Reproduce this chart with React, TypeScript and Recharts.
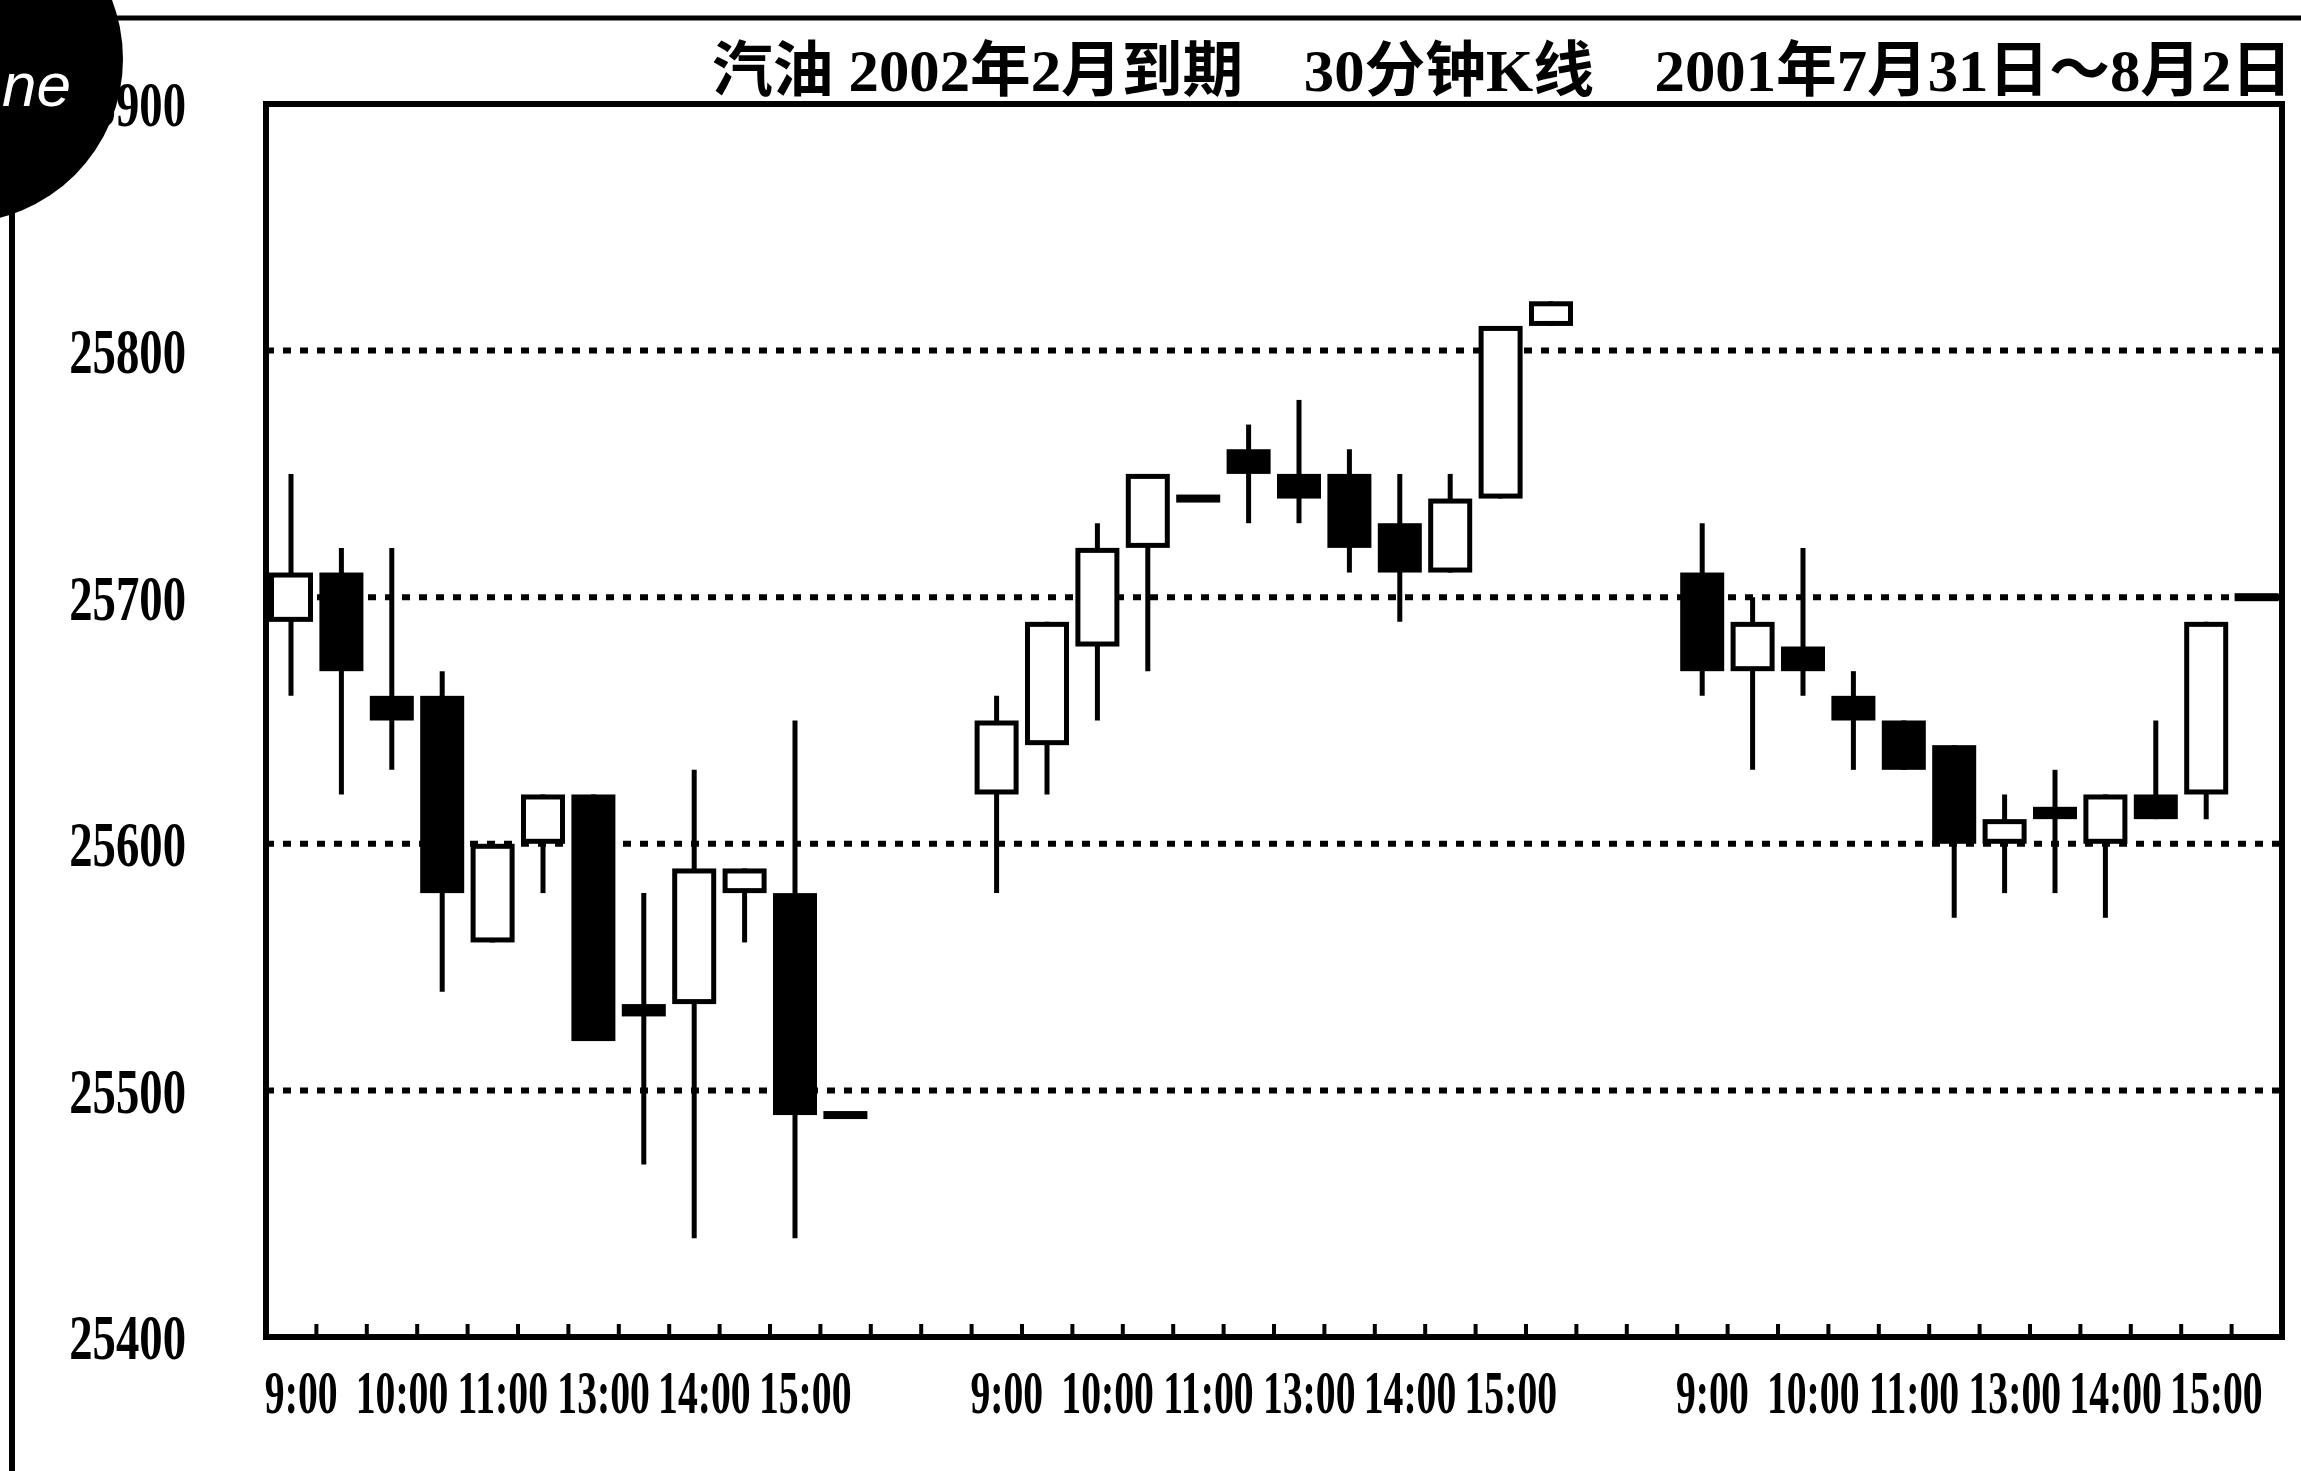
import React from 'react';
import { ComposedChart, Bar, XAxis, YAxis, CartesianGrid, ReferenceArea } from 'recharts';

const W = 2301;
const H = 1471;

// ---- data (3 trading days, 12 half-hour bars each) ----
const openPrices = [
  25690, 25710, 25660, 25660, 25560, 25600, 25620, 25535, 25535, 25580, 25580, 25490,
  25620, 25640, 25680, 25720, 25740, 25760, 25750, 25750, 25730, 25710, 25740, 25810,
  25710, 25670, 25680, 25660, 25650, 25640, 25600, 25615, 25600, 25620, 25620, 25700,
];
const highPrices = [
  25750, 25720, 25720, 25670, 25600, 25620, 25620, 25580, 25630, 25590, 25650, 25490,
  25660, 25690, 25730, 25750, 25740, 25770, 25780, 25760, 25750, 25750, 25810, 25820,
  25730, 25700, 25720, 25670, 25650, 25640, 25620, 25630, 25620, 25650, 25690, 25700,
];
const lowPrices = [
  25660, 25620, 25630, 25540, 25560, 25580, 25520, 25470, 25440, 25560, 25440, 25490,
  25580, 25620, 25650, 25670, 25740, 25730, 25730, 25710, 25690, 25710, 25740, 25810,
  25660, 25630, 25660, 25630, 25630, 25570, 25580, 25580, 25570, 25610, 25610, 25700,
];
const closePrices = [
  25710, 25670, 25650, 25580, 25600, 25620, 25520, 25530, 25590, 25590, 25490, 25490,
  25650, 25690, 25720, 25750, 25740, 25750, 25740, 25720, 25710, 25740, 25810, 25820,
  25670, 25690, 25670, 25650, 25630, 25600, 25610, 25610, 25620, 25610, 25690, 25700,
];

const dayCount = 3;
const barsPerDay = 12;
const gapSlots = 2;
const timeLabels = ['9:00', '10:00', '11:00', '13:00', '14:00', '15:00'];
const timeLabelBars = [0, 2, 4, 6, 8, 10];
const priceTicks = [25400, 25500, 25600, 25700, 25800, 25900];
const titleText = '汽油 2002年2月到期　30分钟K线　2001年7月31日～8月2日';

// ---- derived table ----
const slotsPerDay = barsPerDay + gapSlots;
const totalSlots = dayCount * barsPerDay + (dayCount - 1) * gapSlots;

const data = Array.from({ length: totalSlots }, (_, slot) => {
  const day = Math.floor(slot / slotsPerDay);
  const pos = slot % slotsPerDay;
  if (pos >= barsPerDay) return { slot, range: null };
  const i = day * barsPerDay + pos;
  return {
    slot,
    open: openPrices[i],
    high: highPrices[i],
    low: lowPrices[i],
    close: closePrices[i],
    range: [lowPrices[i], highPrices[i]],
  };
});

const labelMap = new Map<string, string>();
const axisTicks: number[] = [];
for (let s = 1; s < totalSlots; s++) axisTicks.push(s);
for (let d = 0; d < dayCount; d++) {
  timeLabelBars.forEach((b, k) => {
    const v = d * slotsPerDay + b + 0.5;
    axisTicks.push(v);
    labelMap.set(String(v), timeLabels[k]);
  });
}
axisTicks.sort((a, b) => a - b);

// ---- marks ----
const renderCandle = (props: any) => {
  const { x, y, width, height, payload } = props;
  if (!payload || payload.open == null || !isFinite(y)) return <g />;
  const { open, close, high, low } = payload;
  const top = Math.min(y, y + height);
  const h = Math.abs(height);
  const span = high - low;
  const py = (v: number) => (span > 0 ? top + ((high - v) / span) * h : top);
  const cx = x + width / 2;
  const up = close > open;
  let bTop = py(Math.max(open, close));
  let bBot = py(Math.min(open, close));
  const minH = 8;
  if (bBot - bTop < minH) {
    const mid = (bTop + bBot) / 2;
    bTop = mid - minH / 2;
    bBot = mid + minH / 2;
  }
  const sw = 5;
  return (
    <g>
      {span > 0 && (
        <line x1={cx} x2={cx} y1={py(high)} y2={py(low)} stroke="#000" strokeWidth={5} />
      )}
      {up ? (
        <rect
          x={x + sw / 2}
          y={bTop + sw / 2}
          width={width - sw}
          height={Math.max(bBot - bTop - sw, 1)}
          fill="#fff"
          stroke="#000"
          strokeWidth={sw}
        />
      ) : (
        <rect x={x} y={bTop} width={width} height={bBot - bTop} fill="#000" />
      )}
    </g>
  );
};

const TimeTick = (props: any) => {
  const { x, y, payload } = props;
  const v = payload.value;
  if (Number.isInteger(v)) {
    return <line x1={x} x2={x} y1={y} y2={y - 13} stroke="#000" strokeWidth={4} />;
  }
  const label = labelMap.get(String(v));
  if (!label) return <g />;
  return (
    <text
      transform={`translate(${x + 10},${y + 76}) scale(0.64,1)`}
      textAnchor="middle"
      fontFamily="'Liberation Serif', serif"
      fontWeight="bold"
      fontSize={62}
      fill="#000"
    >
      {label}
    </text>
  );
};

const PriceTick = (props: any) => {
  const { x, y, payload } = props;
  return (
    <text
      transform={`translate(${x},${y}) scale(0.73,1)`}
      dy="0.35em"
      textAnchor="end"
      fontFamily="'Liberation Serif', serif"
      fontWeight="bold"
      fontSize={64}
      fill="#000"
    >
      {payload.value}
    </text>
  );
};

export default function App() {
  return (
    <div
      style={{
        position: 'absolute',
        left: 0,
        top: 0,
        width: W,
        height: H,
        background: '#fff',
        overflow: 'hidden',
      }}
    >
      <ComposedChart
        width={W}
        height={H}
        data={data}
        margin={{ top: 104, right: 19, bottom: 0, left: 0 }}
      >
        <CartesianGrid vertical={false} stroke="#000" strokeWidth={6} strokeDasharray="8 9" />
        <XAxis dataKey="slot" type="category" orientation="top" height={0} hide />
        <XAxis
          xAxisId="num"
          type="number"
          dataKey="slot"
          domain={[0, totalSlots]}
          ticks={axisTicks}
          interval={0}
          tick={<TimeTick />}
          tickLine={false}
          axisLine={false}
          tickSize={0}
          tickMargin={0}
          height={134}
          allowDataOverflow
        />
        <YAxis
          domain={[25400, 25900]}
          ticks={priceTicks}
          interval={0}
          width={266}
          tickLine={false}
          axisLine={false}
          tickSize={0}
          tickMargin={80}
          tick={<PriceTick />}
          allowDataOverflow
        />
        <Bar dataKey="range" barSize={44} isAnimationActive={false} shape={renderCandle} />
        <ReferenceArea
          xAxisId="num"
          x1={0}
          x2={totalSlots}
          y1={25400}
          y2={25900}
          fill="none"
          fillOpacity={0}
          stroke="#000"
          strokeWidth={6}
          ifOverflow="visible"
        />
      </ComposedChart>
      <svg
        width={W}
        height={H}
        style={{ position: 'absolute', left: 0, top: 0, pointerEvents: 'none' }}
      >
        <line x1={0} x2={W} y1={18} y2={18} stroke="#000" strokeWidth={5} />
        <line x1={12} x2={12} y1={0} y2={H} stroke="#000" strokeWidth={6} />
        <circle cx={-41} cy={59} r={164} fill="#000" />
        <text
          x={2}
          y={106}
          fill="#fff"
          fontFamily="'Liberation Sans', sans-serif"
          fontStyle="italic"
          fontSize={62}
        >
          ne
        </text>
        <text
          x={2292}
          y={91}
          textAnchor="end"
          fontFamily="'Liberation Serif', 'Noto Sans CJK SC', serif"
          fontWeight="bold"
          fontSize={60}
          fill="#000"
          textLength={1580}
          lengthAdjust="spacingAndGlyphs"
        >
          {titleText}
        </text>
      </svg>
    </div>
  );
}
